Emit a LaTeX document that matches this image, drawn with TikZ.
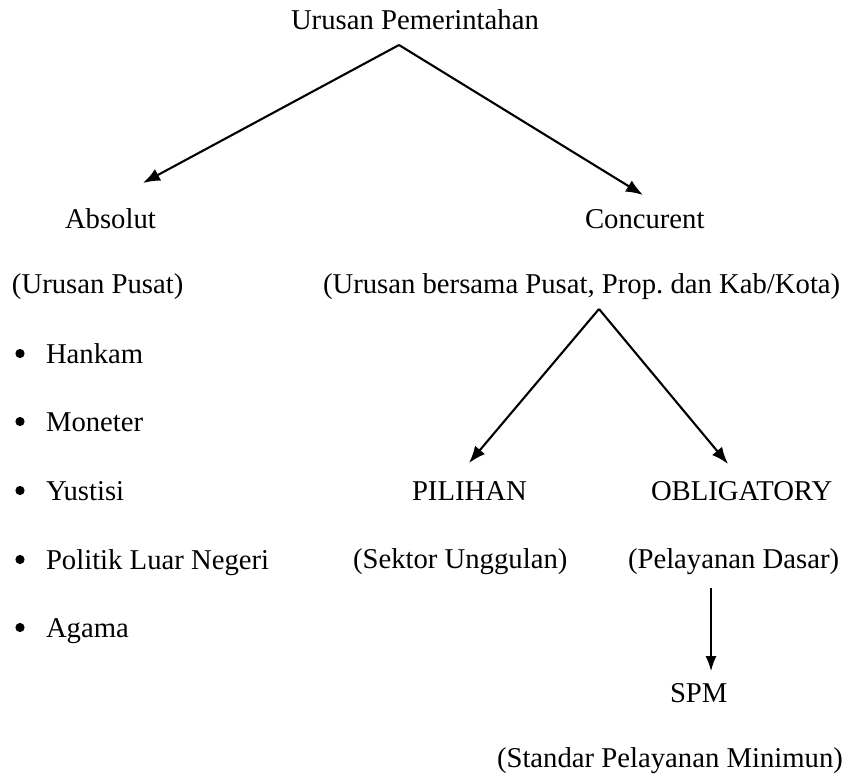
\documentclass[tikz,border=0pt]{standalone}
\usepackage{fontspec}
\setmainfont{Liberation Serif}
\frenchspacing
\usetikzlibrary{arrows.meta}
\tikzset{
  lbl/.style={anchor=base west, inner sep=0pt, outer sep=0pt, font=\fontsize{28.7pt}{34pt}\selectfont},
  conn/.style={line width=2.1pt, -{Latex[length=17pt,width=13pt]}},
  dot/.style={fill=black}
}
\begin{document}
\begin{tikzpicture}[x=1pt,y=-1pt]
\useasboundingbox (0,0) rectangle (846,776);
% texts
\node[lbl] (top) at (291,30) {Urusan Pemerintahan};
\node[lbl] (abs) at (65,228) {Absolut};
\node[lbl] (con) at (585,228) {Concurent};
\node[lbl] (absd) at (12,293) {(Urusan Pusat)};
\node[lbl] (cond) at (323,293) {(Urusan bersama Pusat, Prop. dan Kab/Kota)};
\node[lbl] (b1) at (46,363) {Hankam};
\node[lbl] (b2) at (46,431) {Moneter};
\node[lbl] (b3) at (46,500) {Yustisi};
\node[lbl] (b4) at (46,569) {Politik Luar Negeri};
\node[lbl] (b5) at (46,637) {Agama};
\foreach \yy in {353.5,421.5,490.5,559.5,627.5} \fill[dot] (20,\yy) circle (4.6);
\node[lbl] (pil) at (412,500) {PILIHAN};
\node[lbl] (obl) at (651,500) {OBLIGATORY};
\node[lbl] (pild) at (353,568) {(Sektor Unggulan)};
\node[lbl] (obld) at (628,568) {(Pelayanan Dasar)};
\node[lbl] (spm) at (670,702) {SPM};
\node[lbl] (spmd) at (497,767) {(Standar Pelayanan Minimun)};
% connector points
\coordinate (a0) at (399,45);
\coordinate (aL) at (143,183);
\coordinate (aR) at (643,195);
\coordinate (b0) at (599,309);
\coordinate (bL) at (469,463);
\coordinate (bR) at (728,464);
\coordinate (c0) at (711,588);
\coordinate (c1) at (711,671);
\draw[conn] (a0) -- (aL);
\draw[conn] (a0) -- (aR);
\draw[conn] (b0) -- (bL);
\draw[conn] (b0) -- (bR);
\draw[conn, line width=1.4pt, -{Latex[length=15pt,width=11pt]}] (c0) -- (c1);
\end{tikzpicture}
\end{document}
